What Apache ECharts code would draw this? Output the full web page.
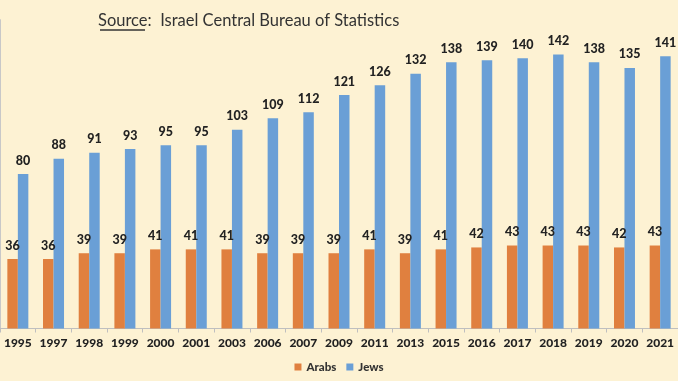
<!DOCTYPE html>
<html><head><meta charset="utf-8">
<script src="https://cdn.jsdelivr.net/npm/echarts@6/dist/echarts.min.js"></script>
<style>html,body{margin:0;padding:0;background:#FDF2D3}#c{width:678px;height:381px}</style>
</head><body><div id="c"></div>
<script>
const years = ['1995','1997','1998','1999','2000','2001','2003','2006','2007','2009','2011','2013','2015','2016','2017','2018','2019','2020','2021'];
const arabs = [36,36,39,39,41,41,41,39,39,39,41,39,41,42,43,43,43,42,43];
const jews = [80,88,91,93,95,95,103,109,112,121,126,132,138,139,140,142,138,135,141];
const seriesNames = ['Arabs','Jews'];
const FONT = 'Lato';
const chart = echarts.init(document.getElementById('c'), null, {renderer:'canvas'});
const lbl = {show:true, position:'top', distance:7, fontFamily:FONT, fontWeight:900, fontSize:12.5, color:'#222'};
chart.setOption({
  backgroundColor:'#FDF2D3',
  animation:false,
  title:{
    text:'{u|Source}:  Israel Central Bureau of Statistics',
    left:98, top:12, padding:0,
    textStyle:{fontFamily:FONT, fontSize:16.5, fontWeight:'normal', color:'#333',
      rich:{u:{fontFamily:FONT, fontSize:16.5, color:'#333'}}}
  },
  graphic:[{type:'line', shape:{x1:100,y1:30,x2:145,y2:30}, style:{stroke:'#333', lineWidth:1.3}}],
  legend:{
    data:seriesNames, bottom:3, left:'center', itemWidth:7, itemHeight:7, itemGap:10, icon:'rect',
    textStyle:{fontFamily:FONT, fontWeight:900, fontSize:11.5, color:'#333'}
  },
  grid:{left:0, width:683, top:19.7, bottom:52.5, containLabel:false},
  xAxis:{
    type:'category', data:years,
    axisLine:{lineStyle:{color:'#BFBFBF'}},
    axisTick:{show:true, length:4, lineStyle:{color:'#BFBFBF'}},
    axisLabel:{fontFamily:FONT, fontWeight:900, fontSize:12, color:'#222', margin:9, interval:0}
  },
  yAxis:{
    type:'value', min:0, max:160,
    axisLine:{show:true, lineStyle:{color:'#C8C8C8'}},
    axisLabel:{show:false}, axisTick:{show:false}, splitLine:{show:false}
  },
  series:[
    {name:seriesNames[0], type:'bar', data:arabs, barWidth:10.5, barGap:'0%', itemStyle:{color:'#E0803F'}, label:lbl},
    {name:seriesNames[1], type:'bar', data:jews, barWidth:10.5, barGap:'0%', itemStyle:{color:'#6A9FD6'}, label:lbl}
  ]
});
</script></body></html>
